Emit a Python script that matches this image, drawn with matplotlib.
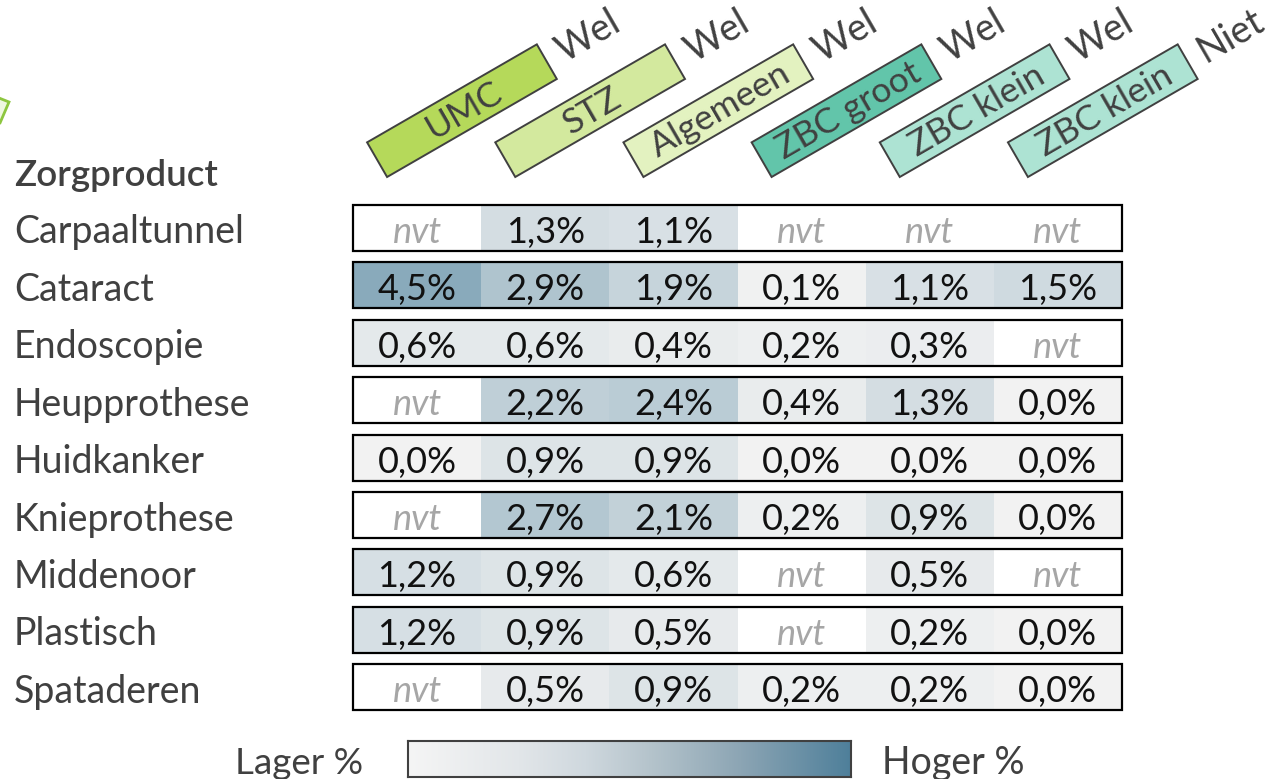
import matplotlib
matplotlib.use('Agg')
import matplotlib.pyplot as plt
import numpy as np
from matplotlib.patches import Rectangle, Polygon
from matplotlib.colors import LinearSegmentedColormap, Normalize
from matplotlib.transforms import Affine2D

plt.rcParams['font.family'] = ['Lato', 'DejaVu Sans']

# data
products = ['Carpaaltunnel', 'Cataract', 'Endoscopie', 'Heupprothese', 'Huidkanker',
            'Knieprothese', 'Middenoor', 'Plastisch', 'Spataderen']
groups = ['UMC', 'STZ', 'Algemeen', 'ZBC groot', 'ZBC klein', 'ZBC klein']
status = ['Wel', 'Wel', 'Wel', 'Wel', 'Wel', 'Niet']
group_colors = ['#b5d95a', '#d3e99e', '#e3f2c0', '#62c5aa', '#ade3d3', '#ade3d3']
nan = np.nan
values = [
    [nan, 1.3, 1.1, nan, nan, nan],
    [4.5, 2.9, 1.9, 0.1, 1.1, 1.5],
    [0.6, 0.6, 0.4, 0.2, 0.3, nan],
    [nan, 2.2, 2.4, 0.4, 1.3, 0.0],
    [0.0, 0.9, 0.9, 0.0, 0.0, 0.0],
    [nan, 2.7, 2.1, 0.2, 0.9, 0.0],
    [1.2, 0.9, 0.6, nan, 0.5, nan],
    [1.2, 0.9, 0.5, nan, 0.2, 0.0],
    [nan, 0.5, 0.9, 0.2, 0.2, 0.0],
]

W, H = 1276, 779
col_w, row_h = 128.17, 57.4
x0, y0 = 353, 228
dark = '#404040'

fig = plt.figure(figsize=(W / 100, H / 100), dpi=100)
ax = fig.add_axes([0, 0, 1, 1])
ax.set_xlim(-x0 / col_w, (W - x0) / col_w)
ax.set_ylim((H - y0) / row_h, -y0 / row_h)
ax.axis('off')


def px(x, y):
    return (x - x0) / col_w, (y - y0) / row_h


cell_cmap = LinearSegmentedColormap.from_list('cells', ['#f2f2f2', '#4b7f9a'])
norm = Normalize(0, 7.2)
dy = 4.5 / row_h  # small downward nudge of text

# table rows
for i, (name, row) in enumerate(zip(products, values)):
    ax.text(px(14, 0)[0], i + dy, name, ha='left', va='center', fontsize=27, color=dark)
    for j, v in enumerate(row):
        if np.isnan(v):
            ax.add_patch(Rectangle((j, i - 0.4), 1, 0.8, fc='white', ec='none'))
            ax.text(j + 0.5, i + dy, 'nvt', ha='center', va='center', fontsize=26,
                    style='italic', color='#a6a6a6')
        else:
            ax.add_patch(Rectangle((j, i - 0.4), 1, 0.8, fc=cell_cmap(norm(v)), ec='none'))
            ax.text(j + 0.5, i + dy, f'{v:.1f}%'.replace('.', ','), ha='center',
                    va='center', fontsize=26, color='#111111')
    ax.add_patch(Rectangle((0, i - 0.4), len(row), 0.8, fc='none', ec='black', lw=1.6))

ax.text(px(14, 0)[0], px(0, 176)[1], 'Zorgproduct', ha='left', va='center',
        fontsize=26.5, fontweight='semibold', color=dark)

# rotated header boxes
fig.canvas.draw()
inv = ax.transData.inverted()
box_len, box_h = 196, 40
for j, (g, s, c) in enumerate(zip(groups, status, group_colors)):
    ax_px, ay_px = ax.transData.transform((j + 0.5, px(0, 177)[1]))
    tr = Affine2D().rotate_deg(30).translate(ax_px - 30, ay_px)
    ax.add_patch(Rectangle((0, 0), box_len, box_h, fc=c, ec=dark, lw=1.4,
                           transform=tr))
    cx, cy = inv.transform(tr.transform((box_len / 2 + 2, box_h / 2 - 1)))
    ax.text(cx, cy, g, ha='center', va='center', rotation=30, rotation_mode='anchor',
            fontsize=25.5, color=dark)
    sx, sy = inv.transform(tr.transform((box_len + 15, box_h / 2 + 1)))
    ax.text(sx, sy, s, ha='left', va='center', rotation=30, rotation_mode='anchor',
            fontsize=27, color=dark)

# small cut-off shape at the left edge
ax.add_patch(Polygon([px(-6, 96), px(9, 102), px(0, 123), px(-6, 123)],
                     fc='#eef7e0', ec='#8dc63f', lw=2))

# colour legend
bar_cmap = LinearSegmentedColormap.from_list(
    'bar', [(0, '#f5f5f5'), (0.25, '#e2e6e9'), (0.4, '#cfd8de'), (0.55, '#b4c3cb'),
            (0.75, '#8ca5b4'), (1, '#4e7f9a')])
cax = fig.add_axes([408 / W, (H - 777) / H, 443 / W, 36 / H])
cax.imshow(np.linspace(0, 1, 256)[None, :], aspect='auto', cmap=bar_cmap)
cax.set_xticks([])
cax.set_yticks([])
for sp in cax.spines.values():
    sp.set_color(dark)
    sp.set_linewidth(1.5)
fig.text(363 / W, 1 - 763 / H, 'Lager %', ha='right', va='center', fontsize=26.5, color=dark)
fig.text(882 / W, 1 - 763 / H, 'Hoger %', ha='left', va='center', fontsize=27, color=dark)

fig.savefig('out.png', dpi=100)
